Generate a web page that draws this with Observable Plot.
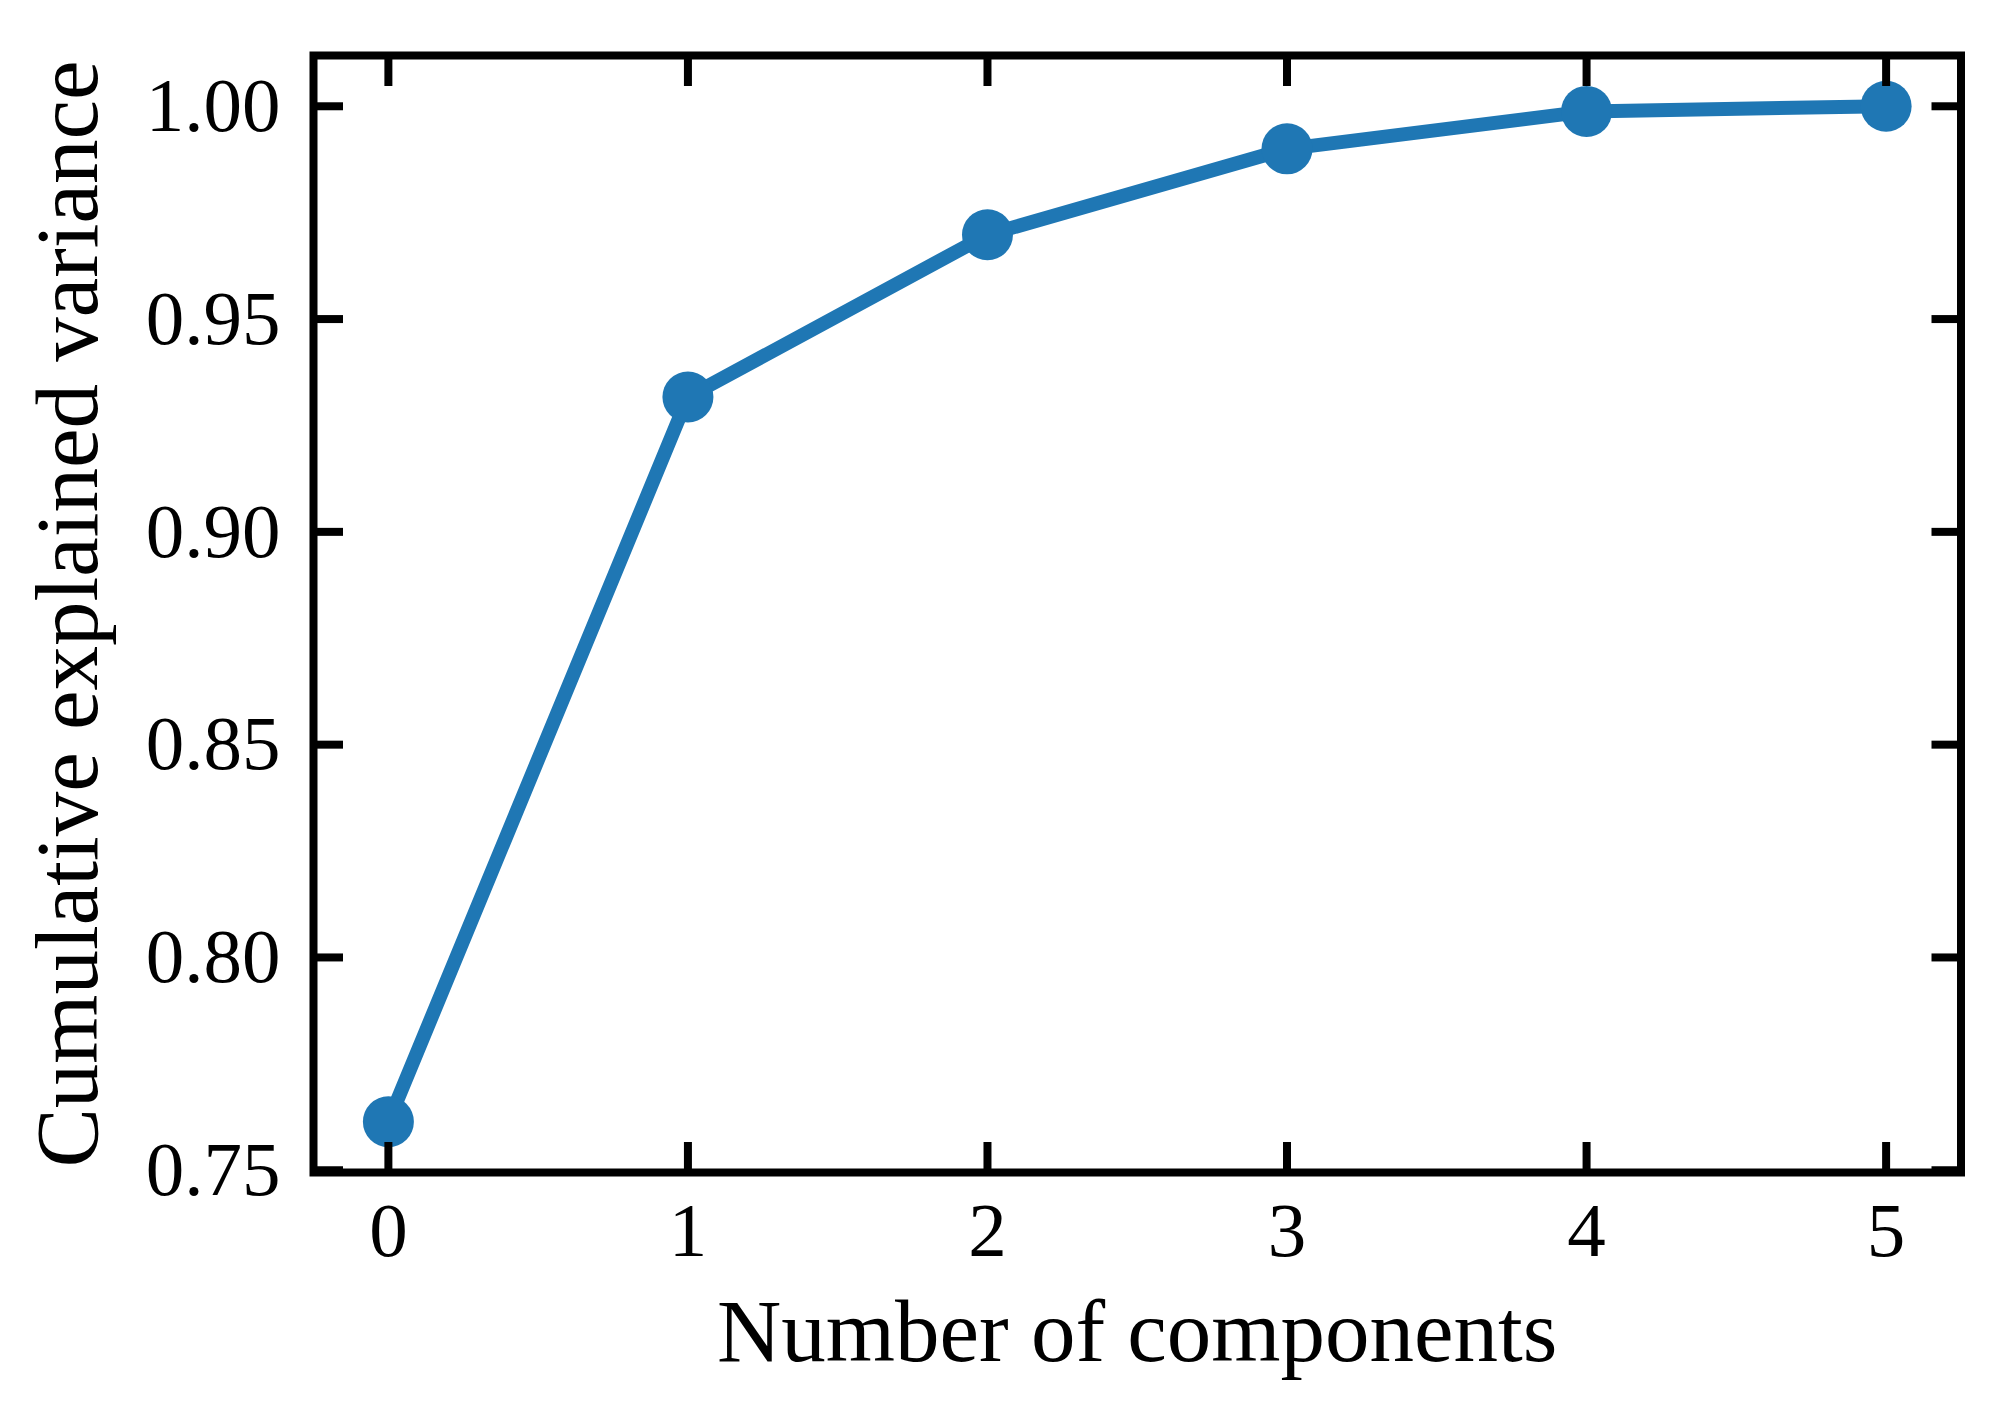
<!DOCTYPE html>
<html><head><meta charset="utf-8">
<script src="https://cdn.jsdelivr.net/npm/d3@7"></script>
<script src="https://cdn.jsdelivr.net/npm/@observablehq/plot@0.6"></script>
<style>html,body{margin:0;padding:0;background:#fff;} svg{display:block}</style>
</head><body><div id="chart"></div>
<script>
const components = [0, 1, 2, 3, 4, 5];
const cumulativeVariance = [0.7614, 0.9317, 0.9698, 0.9900, 0.9988, 1.0000];
const xTicks = [0, 1, 2, 3, 4, 5];
const yTicks = [0.75, 0.80, 0.85, 0.90, 0.95, 1.00];
const xLabel = "Number of components";
const yLabel = "Cumulative explained variance";

const data = components.map((c, i) => ({c, v: cumulativeVariance[i]}));
const vmin = d3.min(cumulativeVariance), vmax = d3.max(cumulativeVariance);
const cmin = d3.min(components), cmax = d3.max(components);
const ypad = 0.05 * (vmax - vmin);
const xpad = 0.05 * (cmax - cmin);
const blue = "#1f77b4";

const plot = Plot.plot({
  width: 2001, height: 1412,
  marginLeft: 313, marginRight: 40.5, marginTop: 55, marginBottom: 240,
  style: {fontFamily: "'Liberation Serif', serif", background: "white", color: "black", overflow: "visible"},
  x: {domain: [cmin - xpad, cmax + xpad]},
  y: {domain: [vmin - ypad, vmax + ypad]},
  marks: [
    Plot.line(data, {x: "c", y: "v", stroke: blue, strokeWidth: 14}),
    Plot.dot(data, {x: "c", y: "v", r: 25.5, fill: blue}),
    Plot.axisX(xTicks, {anchor: "bottom", tickSize: -30, strokeWidth: 8, fill: "none", label: null}),
    Plot.axisX(xTicks, {anchor: "top", tickSize: -30, strokeWidth: 8, fill: "none", label: null}),
    Plot.axisY(yTicks, {anchor: "left", tickSize: -30, strokeWidth: 8, fill: "none", label: null}),
    Plot.axisY(yTicks, {anchor: "right", tickSize: -30, strokeWidth: 8, fill: "none", label: null}),
    Plot.frame({stroke: "black", strokeWidth: 8}),
    Plot.axisX(xTicks, {anchor: "bottom", tickSize: 0, tickPadding: 29, fontSize: 77, tickFormat: d => String(d), label: null}),
    Plot.axisY(yTicks, {anchor: "left", tickSize: 0, tickPadding: 33, fontSize: 77, tickFormat: ".2f", label: null}),
    Plot.axisX(xTicks, {anchor: "bottom", tickSize: 0, fontSize: 89, tickFormat: () => "", label: xLabel, labelAnchor: "center", labelOffset: 188, labelArrow: "none"}),
    Plot.axisY(yTicks, {anchor: "left", tickSize: 0, fontSize: 89, tickFormat: () => "", label: yLabel, labelAnchor: "center", labelOffset: 280, labelArrow: "none"})
  ]
});
document.getElementById("chart").appendChild(plot);
</script>
</body></html>
